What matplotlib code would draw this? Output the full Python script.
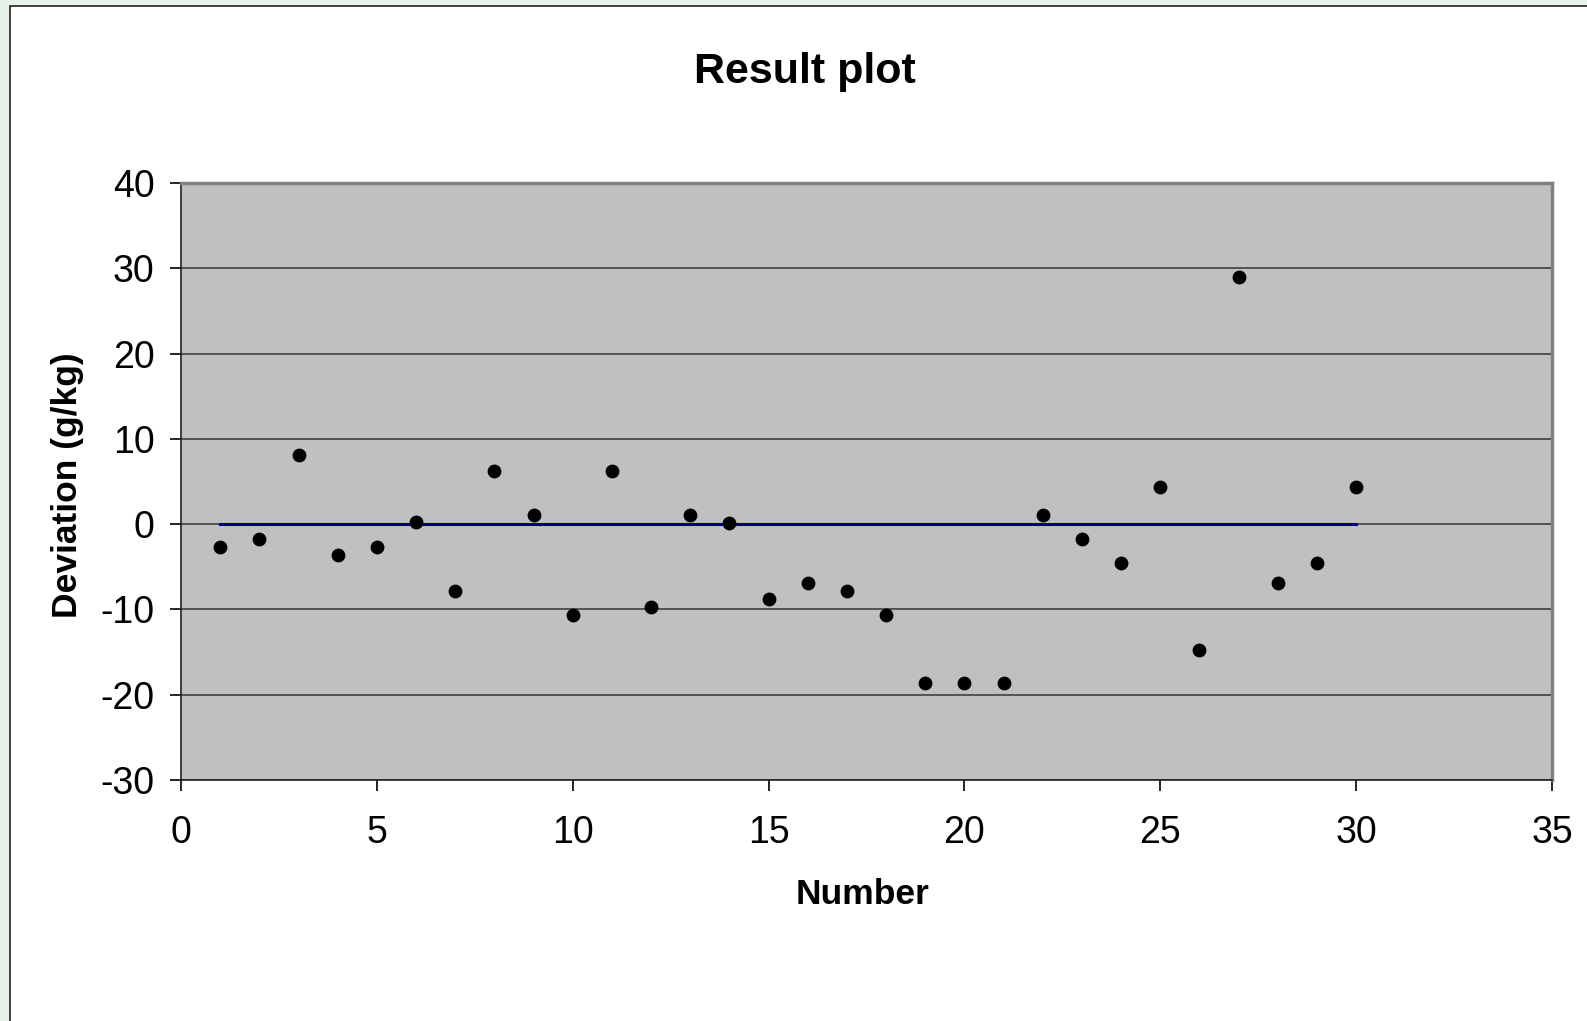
import matplotlib.pyplot as plt
from matplotlib.patches import Rectangle

plt.rcParams['font.family'] = ['Liberation Sans', 'DejaVu Sans']
plt.rcParams['axes.unicode_minus'] = False

# dados
numero = list(range(1, 31))
desvio = [-2.7, -1.8, 8.1, -3.6, -2.7, 0.2, -7.8, 6.2, 1.1, -10.7,
          6.2, -9.7, 1.1, 0.1, -8.8, -6.9, -7.8, -10.7, -18.6, -18.6,
          -18.6, 1.1, -1.8, -4.6, 4.3, -14.8, 29.0, -6.9, -4.6, 4.3]
referencia = [0] * len(numero)

x_ticks = [0, 5, 10, 15, 20, 25, 30, 35]
y_ticks = [-30, -20, -10, 0, 10, 20, 30, 40]

fig = plt.figure(figsize=(15.87, 10.21), dpi=100, facecolor='#e8f1ea')

# moldura branca
fig.patches.append(Rectangle((10 / 1587, -0.01), 1.0, 1 - 6 / 1021 + 0.01,
                             transform=fig.transFigure, facecolor='white',
                             edgecolor='#222222', linewidth=1.2, zorder=-5))

ax = fig.add_axes([181 / 1587, 1 - 780 / 1021, (1552 - 181) / 1587, (780 - 183) / 1021])
ax.set_zorder(2)
ax.set_facecolor('#c0c0c0')

ax.plot(numero, referencia, color='#000080', linewidth=2.2, zorder=2)
ax.scatter(numero, desvio, s=80, color='black', zorder=3)

ax.set_xlim(0, 35)
ax.set_ylim(-30, 40)
ax.set_xticks(x_ticks)
ax.set_yticks(y_ticks)
ax.grid(True, axis='y', color='#404040', linewidth=1.2)
ax.set_axisbelow(True)

ax.tick_params(axis='both', labelsize=27, direction='out', length=8, width=1.2, color='black')
ax.tick_params(axis='y', pad=11)
ax.tick_params(axis='x', pad=17)

for lado in ['top', 'right']:
    ax.spines[lado].set_color('#808080')
    ax.spines[lado].set_linewidth(2.5)
for lado in ['left', 'bottom']:
    ax.spines[lado].set_color('#222222')
    ax.spines[lado].set_linewidth(1.2)

fig.text(805 / 1587, 1 - 72 / 1021, 'Result plot', fontsize=31, fontweight='bold',
         ha='center', va='center')
fig.text(863 / 1587, 1 - 894 / 1021, 'Number', fontsize=25.5, fontweight='bold',
         ha='center', va='center')
fig.text(68 / 1587, 1 - 485 / 1021, 'Deviation (g/kg)', fontsize=25.5, fontweight='bold',
         ha='center', va='center', rotation=90)

fig.savefig('out.png', dpi=100, facecolor=fig.get_facecolor())
